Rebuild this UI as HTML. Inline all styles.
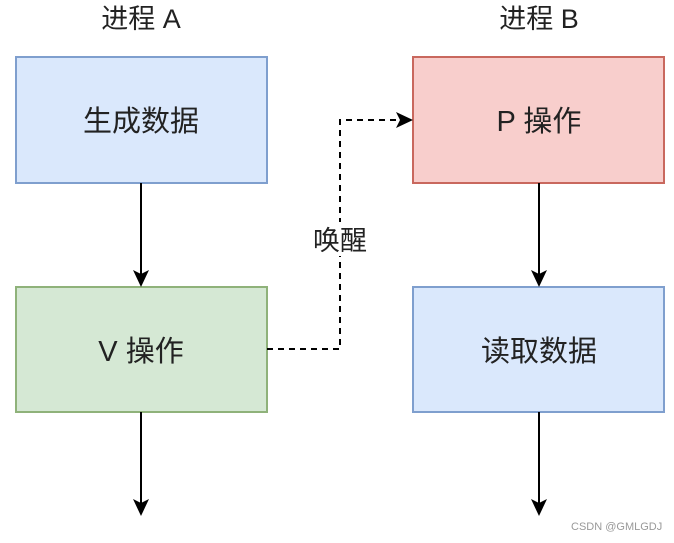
<!DOCTYPE html>
<html><head><meta charset="utf-8"><style>
body{margin:0;background:#fff;}
svg text{font-family:"Liberation Sans","Noto Sans CJK SC",sans-serif;fill:#222;}
</style></head><body>
<svg width="674" height="538" viewBox="0 0 674 538" xmlns="http://www.w3.org/2000/svg">
<rect width="674" height="538" fill="#fff"/>
<text x="141" y="28" font-size="27" text-anchor="middle">进程 A</text>
<text x="539" y="28" font-size="27" text-anchor="middle">进程 B</text>
<rect x="16" y="57" width="251" height="126" fill="#dae8fc" stroke="#7f9fce" stroke-width="2"/>
<rect x="16" y="287" width="251" height="125" fill="#d5e8d4" stroke="#8fb27a" stroke-width="2"/>
<rect x="413" y="57" width="251" height="126" fill="#f8cecc" stroke="#c9685e" stroke-width="2"/>
<rect x="413" y="287" width="251" height="125" fill="#dae8fc" stroke="#7f9fce" stroke-width="2"/>
<text x="141" y="131" font-size="29" text-anchor="middle">生成数据</text>
<text x="141" y="361" font-size="29" text-anchor="middle">V 操作</text>
<text x="539" y="131" font-size="29" text-anchor="middle">P 操作</text>
<text x="539" y="361" font-size="29" text-anchor="middle">读取数据</text>
<g stroke="#000" stroke-width="2" fill="none">
<line x1="141" y1="183" x2="141" y2="276"/>
<line x1="141" y1="412" x2="141" y2="505"/>
<line x1="539" y1="183" x2="539" y2="276"/>
<line x1="539" y1="412" x2="539" y2="505"/>
<polyline points="267,349 340,349 340,120 402,120" stroke-dasharray="6,5"/>
</g>
<g fill="#000">
<polygon points="133,270 141,287 149,270 141,274"/>
<polygon points="133,499 141,516 149,499 141,503"/>
<polygon points="531,270 539,287 547,270 539,274"/>
<polygon points="531,499 539,516 547,499 539,503"/>
<polygon points="396,112 413,120 396,128 400,120"/>
</g>
<rect x="305" y="222" width="70" height="34" fill="#fff"/>
<text x="340" y="250" font-size="27" text-anchor="middle">唤醒</text>
<text x="571" y="530" font-size="11" fill="#999" style="fill:#999">CSDN @GMLGDJ</text>
</svg>
</body></html>
